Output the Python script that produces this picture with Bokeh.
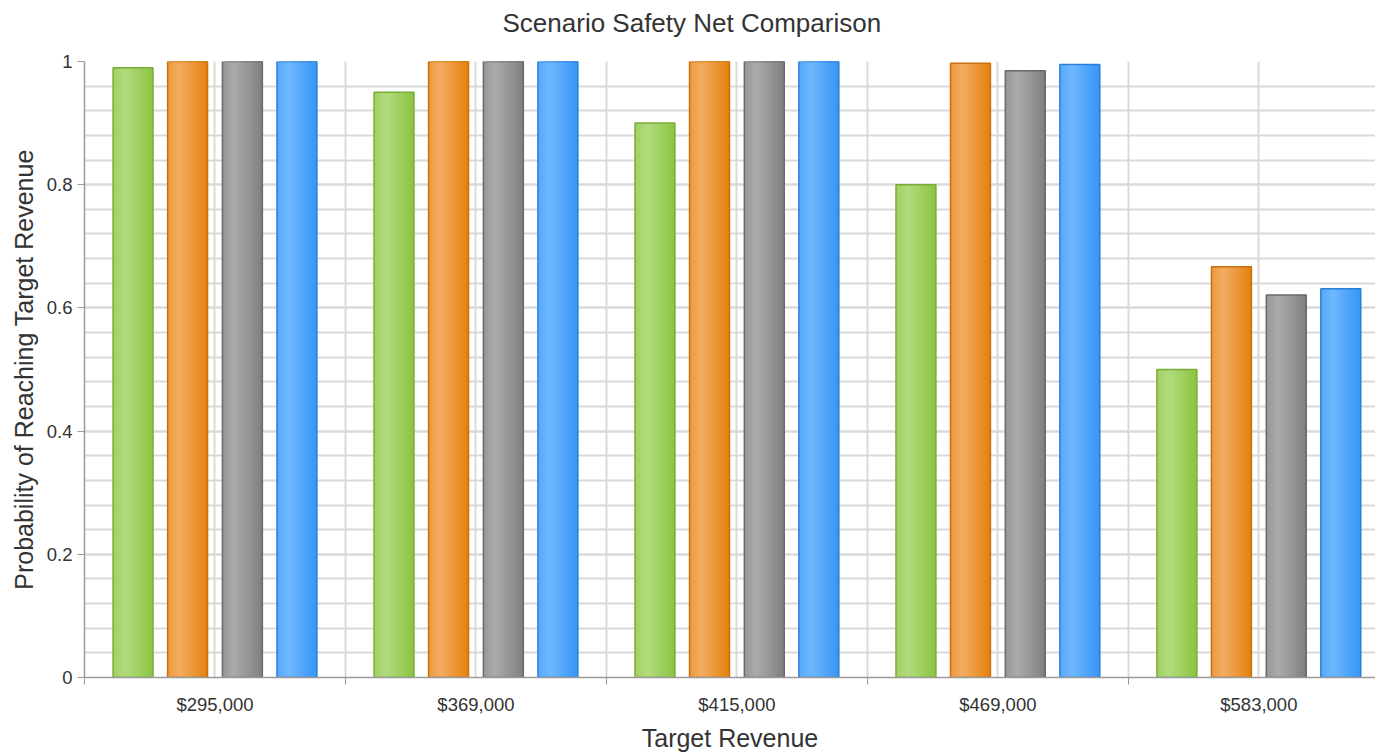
from bokeh.plotting import figure
from bokeh.models import ColumnDataSource, FixedTicker, Range1d, Title
from bokeh.embed import file_html
from bokeh.resources import INLINE

# Target revenue levels and probability of reaching each one, per scenario
categories = ["$295,000", "$369,000", "$415,000", "$469,000", "$583,000"]
scenario_green = [0.99, 0.95, 0.90, 0.80, 0.50]
scenario_orange = [1.00, 1.00, 1.00, 0.997, 0.667]
scenario_gray = [1.00, 1.00, 1.00, 0.985, 0.621]
scenario_blue = [1.00, 1.00, 1.00, 0.995, 0.631]

y_ticks = [0, 0.2, 0.4, 0.6, 0.8, 1]
y_tick_labels = ["0", "0.2", "0.4", "0.6", "0.8", "1"]

TITLE = "Scenario Safety Net Comparison"
FONT = "Liberation Sans"

# (highlight, base, outline) for each series
series = [
    (scenario_green, "#b2db7e", "#8bc441", "#79ad38"),
    (scenario_orange, "#f3ad62", "#e4810e", "#c96f0b"),
    (scenario_gray, "#ababab", "#7f7f7f", "#696969"),
    (scenario_blue, "#70b8ff", "#3695f5", "#2a7fd8"),
]
offsets = [-0.314, -0.105, 0.105, 0.314]
bar_w = 0.153
n_strips = 16


def hex_to_rgb(h):
    h = h.lstrip("#")
    return tuple(int(h[i:i + 2], 16) for i in (0, 2, 4))


def mix(a, b, t):
    ra, rb = hex_to_rgb(a), hex_to_rgb(b)
    return "#%02x%02x%02x" % tuple(int(round(x + (y - x) * t)) for x, y in zip(ra, rb))


def strip_color(hi, base, t):
    # lighter band near the left third, darker toward the right edge
    if t < 0.3:
        return mix(base, hi, 0.55 + 0.45 * t / 0.3)
    return mix(hi, base, (t - 0.3) / 0.7)


p = figure(
    width=1375, height=754,
    x_range=Range1d(0, 4.947), y_range=Range1d(0, 1),
    output_backend="svg", toolbar_location=None,
    min_border_left=84, min_border_right=0, min_border_top=61, min_border_bottom=77,
    title=TITLE,
)
p.outline_line_color = None
p.background_fill_color = "white"
p.border_fill_color = "white"

# title, centred over the whole canvas rather than the frame
p.title.align = "left"
p.title.offset = 418
p.title.standoff = 10
p.title.text_font = FONT
p.title.text_font_size = "26px"
p.title.text_font_style = "normal"
p.title.text_color = "#333333"
# blank spacer between the title and the plot area
p.add_layout(Title(text=" ", text_font_size="1px", standoff=16), "above")

# grid
p.xgrid.ticker = FixedTicker(ticks=[i + 0.5 for i in range(len(categories))],
                             minor_ticks=list(range(len(categories) + 1)))
p.ygrid.ticker = FixedTicker(ticks=y_ticks, minor_ticks=[i * 0.04 for i in range(26)])
for g in (p.xgrid, p.ygrid):
    g.grid_line_color = "#dadada"
    g.grid_line_width = 2
    g.minor_grid_line_color = "#dadada"
    g.minor_grid_line_width = 2

# axes
xa = p.xaxis[0]
xa.ticker = FixedTicker(ticks=[i + 0.5 for i in range(len(categories))],
                        minor_ticks=list(range(len(categories) + 1)))
xa.major_label_overrides = {i + 0.5: c for i, c in enumerate(categories)}
xa.major_tick_line_color = None
xa.major_tick_out = 0
xa.major_tick_in = 0
xa.minor_tick_out = 7
xa.minor_tick_in = 0
xa.minor_tick_line_color = "#9a9a9a"
xa.major_label_standoff = 9
xa.axis_label = "Target Revenue"
xa.axis_label_standoff = 6

ya = p.yaxis[0]
ya.ticker = FixedTicker(ticks=y_ticks)
ya.major_label_overrides = {v: s for v, s in zip(y_ticks, y_tick_labels)}
ya.major_tick_out = 7
ya.major_tick_in = 0
ya.major_tick_line_color = "#9a9a9a"
ya.minor_tick_line_color = None
ya.major_label_standoff = 5
ya.axis_label = "Probability of Reaching Target Revenue"
ya.axis_label_standoff = 6

for ax in (xa, ya):
    ax.axis_line_color = "#9a9a9a"
    ax.axis_line_width = 1.5
    ax.major_label_text_font = FONT
    ax.major_label_text_font_size = "18.5px"
    ax.major_label_text_color = "#333333"
    ax.axis_label_text_font = FONT
    ax.axis_label_text_font_size = "25px"
    ax.axis_label_text_font_style = "normal"
    ax.axis_label_text_color = "#333333"

# bars: each bar shaded by stacked strips that start further right each step
strip_w = bar_w / n_strips
for (vals, hi, base, outline), off in zip(series, offsets):
    lefts, rights, tops, cols = [], [], [], []
    for i, v in enumerate(vals):
        left = i + 0.5 + off - bar_w / 2
        for k in range(n_strips):
            t = (k + 0.5) / n_strips
            lefts.append(left + k * strip_w)
            rights.append(left + bar_w)
            tops.append(v)
            cols.append(strip_color(hi, base, t))
    src = ColumnDataSource(dict(left=lefts, right=rights, top=tops, color=cols))
    p.quad(left="left", right="right", top="top", bottom=0, source=src,
           fill_color="color", line_color=None)
    bsrc = ColumnDataSource(dict(x=[i + 0.5 + off for i in range(len(vals))], top=vals))
    p.vbar(x="x", top="top", bottom=0, width=bar_w, source=bsrc,
           fill_color=None, line_color=outline, line_width=1.5)

open("out.html", "w").write(file_html(p, INLINE))
